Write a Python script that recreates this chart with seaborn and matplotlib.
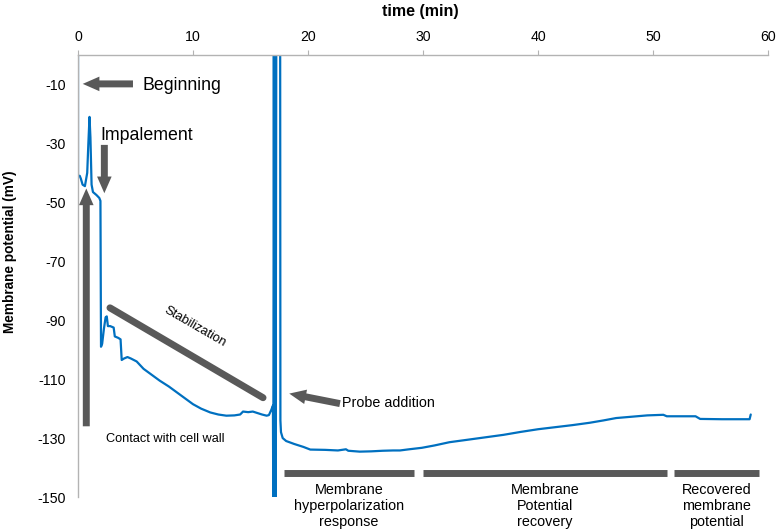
import pandas as pd
import matplotlib.pyplot as plt
import seaborn as sns
import numpy as np

# membrane potential trace
time_min = [0.0, 0.0, 0.15, 0.25, 0.4, 0.6, 0.8, 0.9, 1.0, 1.08, 1.18, 1.3, 1.6, 1.85, 1.95,
            2.0, 2.1, 2.25, 2.4, 2.5, 2.6, 2.8, 3.1, 3.2, 3.5, 3.7, 3.8, 4.0, 4.3, 4.6,
            5.1, 5.7, 6.4, 7.1, 7.9, 8.6, 9.3, 10.0, 10.7, 11.5, 12.2, 12.9, 13.6, 14.1,
            14.35, 14.8, 15.2, 15.6, 16.0, 16.4, 16.6, 16.8, 16.95,
            16.98, 17.03, 17.08, 17.13, 17.18, 17.24, 17.58,
            17.6, 17.65, 17.8, 18.1, 18.8, 19.6, 20.2, 21.5, 22.6, 23.3, 23.5, 24.5, 25.5,
            26.5, 27.4, 28.0, 28.8, 29.9, 31.0, 32.3, 34.0, 35.5, 37.0, 38.5, 40.0, 41.5,
            43.0, 44.5, 45.7, 46.8, 48.0, 49.5, 50.9, 51.2, 53.7, 54.1, 56.0, 58.4, 58.5]
potential_mv = [0, -41, -41, -42, -44, -44.5, -40, -30, -21, -28, -44, -46.5, -47.5, -48.5, -49.5,
                -99, -98, -93, -89, -88.7, -92, -92, -92.5, -95.5, -96, -96.5, -103.5, -103, -102.5, -103,
                -104, -106.5, -108.5, -110.5, -112.5, -114.5, -116.5, -118.5, -120, -121.3, -122, -122.4, -122.3, -122,
                -121, -121.2, -121, -121.5, -122, -122.4, -122.2, -120.5, -119,
                -152, 2, -152, 2, -152, 2, 2,
                -124, -128, -130, -131, -132, -133, -133.9, -134, -134.2, -133.8, -134.3, -134.6, -134.5,
                -134.3, -134.2, -134.2, -133.8, -133.3, -132.5, -131.4, -130.5, -129.7, -128.9, -127.9, -127, -126.3,
                -125.6, -124.8, -124, -123.2, -122.8, -122.3, -122.1, -122.6, -122.6, -123.5, -123.6, -123.6, -122]

# phases marked under the trace
phase_start = [17.9, 30.0, 51.8]
phase_end = [29.2, 51.2, 59.2]
phase_labels = ["Membrane\nhyperpolarization\nresponse", "Membrane\nPotential\nrecovery",
                "Recovered\nmembrane\npotential"]

df = pd.DataFrame({"time": time_min, "mV": potential_mv})

sns.set_style("white")
plt.rcParams['font.family'] = ['Liberation Sans', 'DejaVu Sans']
plt.rcParams['axes.unicode_minus'] = False
plt.rcParams['text.color'] = 'black'
plt.rcParams['axes.labelcolor'] = 'black'

arrow_col = '#595959'
axis_col = '#b3b3b3'

fig, ax = plt.subplots(figsize=(7.77, 5.31), dpi=100)
fig.subplots_adjust(left=0.1004, right=0.9884, top=0.8964, bottom=0.064)

sns.lineplot(data=df, x="time", y="mV", sort=False, estimator=None, color='#0070c0', lw=1.6, ax=ax)

ax.set_xlim(0, 60)
ax.set_ylim(-150, 0)
ax.set_xticks(np.arange(0, 61, 10))
ax.set_yticks(np.arange(-150, 0, 20))

ax.xaxis.tick_top()
ax.xaxis.set_label_position('top')
ax.set_xlabel("time (min)", fontsize=11.5, fontweight='bold')
ax.set_ylabel("Membrane potential (mV)", fontsize=9.8, fontweight='bold')
ax.xaxis.set_label_coords(0.496, 1.088)
ax.yaxis.set_label_coords(-0.088, 0.554)

for s in ['bottom', 'right']:
    ax.spines[s].set_visible(False)
for s in ['top', 'left']:
    ax.spines[s].set_color(axis_col)
    ax.spines[s].set_linewidth(1)
ax.tick_params(axis='x', direction='out', length=3.6, width=0.8, color=axis_col,
               labelcolor='black', labelsize=10.2, pad=4)
ax.tick_params(axis='y', direction='out', length=3.6, width=0.8, color=axis_col,
               labelcolor='black', labelsize=10.2, pad=5)

arr = dict(arrowstyle="simple,head_length=1.2,head_width=1.05,tail_width=0.5",
           mutation_scale=10, color=arrow_col, lw=0, shrinkA=0, shrinkB=0)

# Beginning
ax.annotate("", xy=(0.41, -9.8), xytext=(4.78, -9.8), arrowprops=arr)
ax.text(5.57, -10.3, "Beginning", fontsize=12.8, ha='left', va='center')

# Impalement
ax.annotate("", xy=(2.29, -46.9), xytext=(2.29, -30.5), arrowprops=arr)
ax.text(1.91, -27.3, "Impalement", fontsize=12.8, ha='left', va='center')

# Contact with cell wall
ax.annotate("", xy=(0.72, -45.3), xytext=(0.72, -126), arrowprops=arr)
ax.text(2.43, -130.2, "Contact with cell wall", fontsize=9.2, ha='left', va='center')

# Stabilization
ax.annotate("", xy=(16.09, -116.3), xytext=(2.78, -85.8),
            arrowprops=dict(arrowstyle='-', lw=5, color=arrow_col, shrinkA=0, shrinkB=0))
ax.text(10.17, -92.2, "Stabilization", fontsize=9.3, rotation=-30, ha='center', va='center',
        rotation_mode='anchor')

# Probe addition
ax.annotate("", xy=(18.37, -114.9), xytext=(22.78, -118.3), arrowprops=arr)
ax.text(22.93, -118, "Probe addition", fontsize=10.3, ha='left', va='center')

# phase bars and labels
for a, b, lab in zip(phase_start, phase_end, phase_labels):
    ax.plot([a, b], [-141.8, -141.8], color=arrow_col, lw=5, solid_capstyle='butt')
    ax.text((a + b) / 2, -153.0, lab, fontsize=10.4, ha='center', va='center',
            linespacing=1.2, clip_on=False)

plt.savefig("out.png", dpi=100)
